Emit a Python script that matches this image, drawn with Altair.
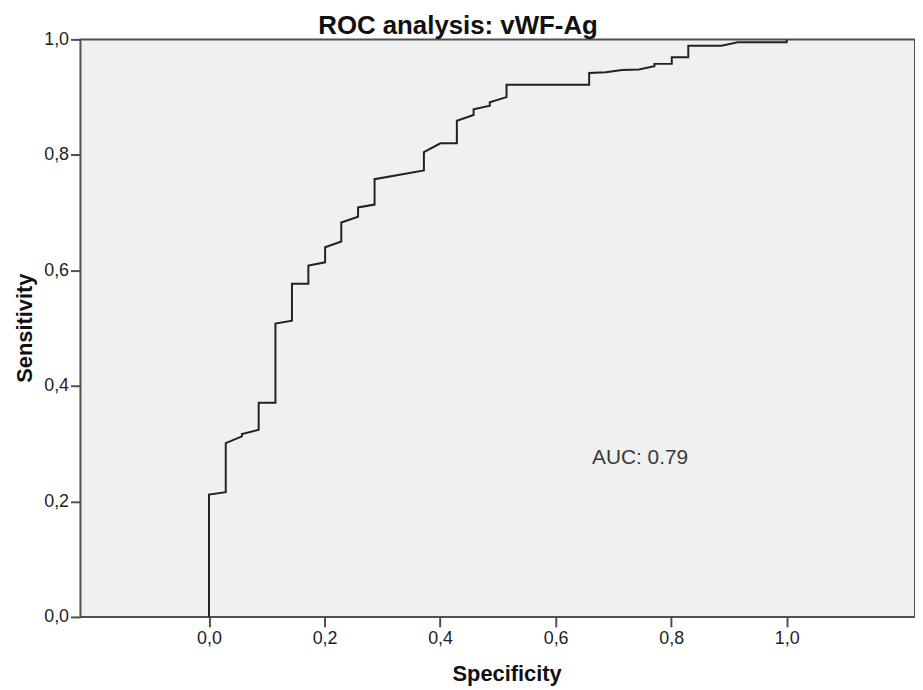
import altair as alt
import pandas as pd

# ROC curve points (x = "Specificity" axis, y = Sensitivity)
spec = [0.0, 0.0, 0.029, 0.029, 0.057, 0.057, 0.086, 0.086, 0.115, 0.115,
        0.1436, 0.1436, 0.172, 0.172, 0.201, 0.201, 0.229, 0.229, 0.258, 0.258,
        0.2866, 0.2866, 0.372, 0.372, 0.4005, 0.429, 0.429, 0.458, 0.458, 0.486,
        0.486, 0.515, 0.515, 0.658, 0.658, 0.6866, 0.715, 0.744, 0.771, 0.771,
        0.801, 0.801, 0.8296, 0.8296, 0.887, 0.915, 1.0, 1.0]
sens = [0.0, 0.212, 0.216, 0.301, 0.3125, 0.3165, 0.324, 0.371, 0.371, 0.508,
        0.513, 0.577, 0.577, 0.6085, 0.614, 0.640, 0.650, 0.683, 0.693, 0.709,
        0.714, 0.758, 0.773, 0.805, 0.820, 0.820, 0.859, 0.869, 0.879, 0.885,
        0.891, 0.900, 0.9215, 0.9215, 0.942, 0.943, 0.947, 0.948, 0.9535, 0.9576,
        0.9576, 0.969, 0.969, 0.989, 0.989, 0.995, 0.995, 1.0]
tick_values = [0.0, 0.2, 0.4, 0.6, 0.8, 1.0]
title_text = ["ROC analysis: vWF-Ag"]
x_title = ["Specificity"]
y_title = ["Sensitivity"]
auc_label = ["AUC: 0.79"]
auc_x = [0.663]
auc_y = [0.265]

df = pd.DataFrame({"spec": spec, "sens": sens, "order": list(range(len(spec)))})
df_auc = pd.DataFrame({"label": auc_label, "x": auc_x, "y": auc_y})

FONT = "Liberation Sans"
label_expr = "replace(format(datum.value, '.1f'), '.', ',')"

xscale = alt.Scale(domain=[-0.2225, 1.222], nice=False, zero=False)
yscale = alt.Scale(domain=[0, 1], nice=False)

axis_common = dict(values=tick_values, labelExpr=label_expr, title=None, grid=False,
                   domain=False, tickColor="#505050", tickWidth=2, tickSize=10,
                   labelFontSize=18, labelFont=FONT, labelColor="#222222")

line = alt.Chart(df).mark_line(color="#222222", strokeWidth=2, interpolate="linear").encode(
    x=alt.X("spec:Q", scale=xscale, axis=alt.Axis(labelPadding=3, **axis_common)),
    y=alt.Y("sens:Q", scale=yscale, axis=alt.Axis(labelPadding=2, **axis_common)),
    order="order:Q",
)

auc = alt.Chart(df_auc).mark_text(font=FONT, fontSize=21, color="#3a3a3a", align="left",
                                   baseline="alphabetic").encode(
    x=alt.X("x:Q", scale=xscale),
    y=alt.Y("y:Q", scale=yscale),
    text="label:N",
)

title = alt.Chart(pd.DataFrame({"t": title_text})).mark_text(
    font=FONT, fontSize=26, fontWeight="bold", color="#111111", align="center",
    baseline="alphabetic").encode(x=alt.value(380.5), y=alt.value(-5.5), text="t:N")

xt = alt.Chart(pd.DataFrame({"t": x_title})).mark_text(
    font=FONT, fontSize=22, fontWeight="bold", color="#111111", align="center",
    baseline="alphabetic").encode(x=alt.value(430), y=alt.value(647), text="t:N")

yt = alt.Chart(pd.DataFrame({"t": y_title})).mark_text(
    font=FONT, fontSize=22, fontWeight="bold", color="#111111", align="center",
    baseline="alphabetic", angle=270).encode(x=alt.value(-49), y=alt.value(291), text="t:N")

chart = alt.layer(line, auc, title, xt, yt).properties(
    width=841,
    height=582,
    autosize=alt.AutoSizeParams(type="none"),
    padding={"left": 73, "top": 29, "right": 0, "bottom": 71},
).configure_view(
    fill="#f0f0f0", stroke="#505050", strokeWidth=2
)

chart.save("out.html", embed_options={"renderer": "svg", "actions": False})
